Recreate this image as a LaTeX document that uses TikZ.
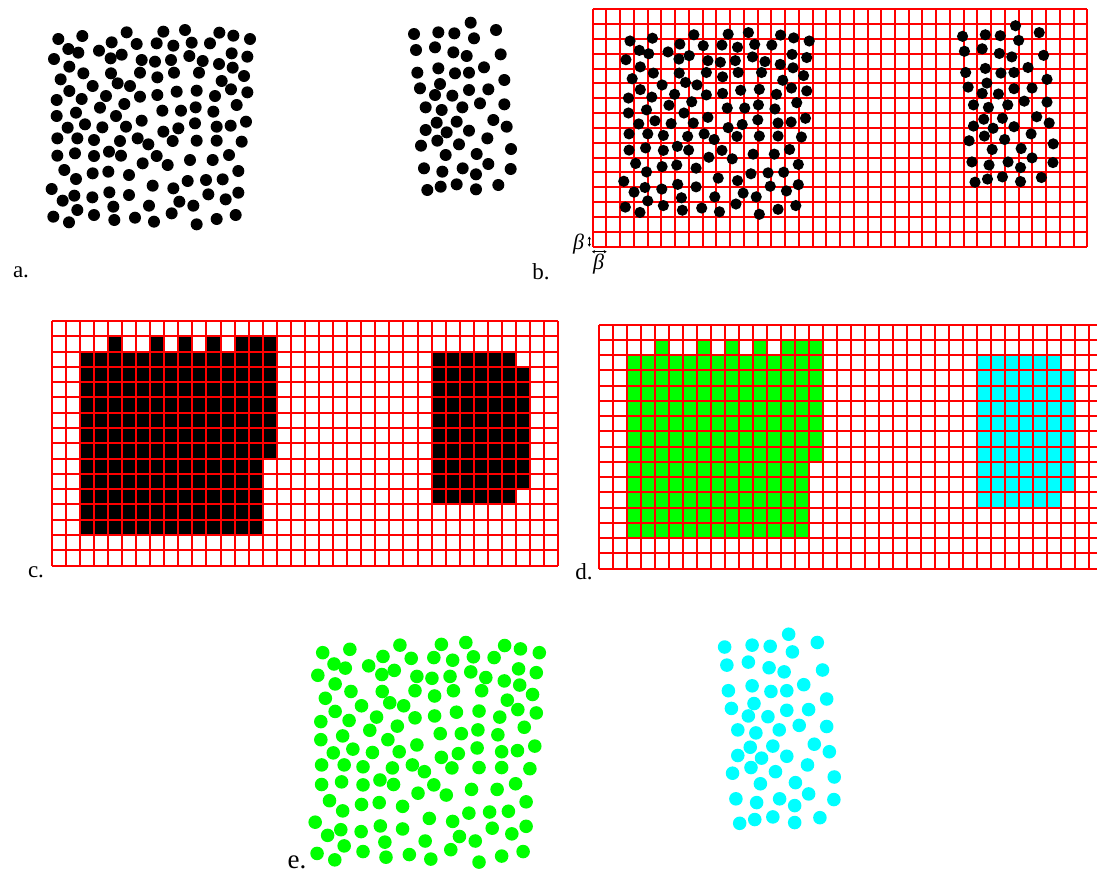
\documentclass[tikz,border=0pt]{standalone}
\usepackage{fontspec}
\setmainfont{Liberation Serif}
\usetikzlibrary{arrows.meta}
\definecolor{gridred}{RGB}{255,0,0}
\definecolor{dotgreen}{RGB}{0,255,0}
\definecolor{dotcyan}{RGB}{0,255,255}
\def\leftdots{55/57, 127/48, 260/37, 370/35, 435/30, 538/38, 580/47, 630/57,
85/87, 115/98, 177/92, 215/67, 290/72, 350/70, 400/77, 455/68, 510/70, 575/100,
42/117, 212/115, 245/104, 305/120, 345/125, 393/120, 448/108, 488/123, 622/110, 537/132,
88/140, 130/160, 213/160, 300/158, 352/172, 402/158, 477/158, 578/143, 612/168,
62/178, 233/190, 270/198, 545/183, 158/198,
88/213, 198/228, 300/230, 352/225, 410/215, 470/212, 525/228, 573/208, 622/217,
50/240, 125/237, 180/263, 253/252, 590/255, 467/262,
367/272, 423/272, 520/275, 50/288, 108/278, 228/288,
305/302, 465/310, 572/317, 618/305, 83/323, 135/313, 187/322, 258/320, 370/335, 415/325, 530/320,
52/355, 112/355, 162/360, 240/363, 293/355, 325/373, 398/363, 470/362, 530/362, 605/365,
52/407, 105/400, 162/408, 207/395, 243/407, 350/408, 308/430, 383/435, 450/420, 518/420, 567/405,
73/450, 108/477, 158/460, 205/455, 267/465, 443/483, 498/480, 548/478, 595/453,
35/507, 103/527, 68/542, 157/532, 208/517, 267/525, 338/497, 400/505, 418/545, 460/557, 505/523, 557/538, 595/518,
40/590, 87/607, 112/570, 162/585, 220/560, 223/600, 285/593, 327/557, 342/605, 395/580, 470/613, 530/597, 587/585}
\def\rightdots{212/38, 42/72, 115/67, 163/70, 222/85, 288/60,
48/120, 105/112, 160/127, 200/138, 302/133,
52/188, 115/175, 165/190, 207/188, 252/172, 313/210,
60/235, 120/222, 105/255, 157/257, 207/240, 265/238,
77/292, 125/300, 187/292, 240/280, 313/283,
110/338, 170/335, 77/360, 140/367, 207/362, 280/330, 320/350,
63/407, 112/392, 177/403, 262/385, 333/417,
137/435, 230/432, 72/475, 127/485, 188/475, 228/493, 265/462, 332/477,
82/540, 122/530, 170/523, 228/538, 295/525}
\newcommand\dotpattern[2]{%
  \foreach \u/\v in \leftdots {\fill[#1] ({40+\u/3},{20+\v/3}) circle[radius=6];}
  \foreach \u/\v in \rightdots {\fill[#2] ({400+\u/3},{10+\v/3}) circle[radius=6];}
}
\newcommand\redgrid[3]{%
  \foreach \i in {0,...,#1} {\draw[gridline] (\i,0) -- (\i,#2);}
  \foreach \j in {0,...,#2} {\draw[gridline] (0,\j) -- (#3,\j);}
}
\newcommand\blobs[2]{%
  \fill[#1] (4,1) rectangle (5,2) (7,1) rectangle (8,2) (9,1) rectangle (10,2)
    (11,1) rectangle (12,2) (13,1) rectangle (16,2)
    (2,2) rectangle (16,9) (2,9) rectangle (15,14);
  \fill[#2] (27,2) rectangle (33,3) (27,3) rectangle (34,11) (27,11) rectangle (33,12);
}
\tikzset{
  gridline/.style={draw=gridred, line width=2pt},
  lab/.style={inner sep=0pt, font=\fontsize{23}{23}\selectfont},
  betalab/.style={inner sep=0pt, font=\fontsize{22}{22}\selectfont\itshape},
  smallarrow/.style={{Stealth[length=3pt,width=3.4pt]}-{Stealth[length=3pt,width=3.4pt]}, line width=1pt}
}
\begin{document}
\begin{tikzpicture}[x=1pt,y=-1pt]
\useasboundingbox[fill=white] (0,0) rectangle (1097,873);
% panel a
\dotpattern{black}{black}
% panel b
\begin{scope}[shift={(592.7,9.3)}, xscale=13.74, yscale=14.83]
  \redgrid{36}{16}{36}
\end{scope}
\begin{scope}[shift={(575.46,4.54)}, scale=0.935]
  \dotpattern{black}{black}
\end{scope}
\node[betalab] (b1) at (578.5,244.5) {β};
\coordinate (vt) at (589.3,236.5);
\coordinate (vb) at (589.3,246.7);
\draw[smallarrow] (vt) -- (vb);
\coordinate (hl) at (592,251.7);
\coordinate (hr) at (606.7,251.7);
\draw[smallarrow] (hl) -- (hr);
\node[betalab] (b2) at (598.5,264.5) {β};
% panel c
\begin{scope}[shift={(51.7,321)}, xscale=14.07, yscale=15.29]
  \blobs{black}{black}
  \redgrid{36}{16}{36}
\end{scope}
% panel d
\begin{scope}[shift={(599.3,324.7)}, xscale=14.0, yscale=15.25]
  \blobs{dotgreen}{dotcyan}
  \redgrid{35}{16}{35.55}
\end{scope}
% panel e
\begin{scope}[shift={(256.8,608.6)}, scale=1.13]
  \dotpattern{dotgreen}{dotcyan}
\end{scope}
% labels
\node[lab] (la) at (21,272) {a.};
\node[lab] (lb) at (541,272) {b.};
\node[lab] (lc) at (36,572) {c.};
\node[lab] (ld) at (584,572) {d.};
\node[lab, font=\fontsize{27}{27}\selectfont] (le) at (297,862) {e.};
\end{tikzpicture}
\end{document}
